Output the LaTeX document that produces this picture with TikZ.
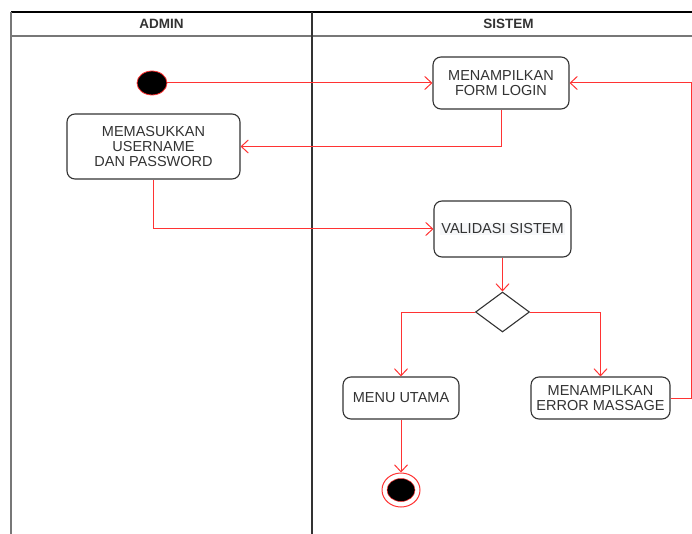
\documentclass[tikz,border=0pt]{standalone}
\usepackage{fontspec}
\setmainfont{Liberation Sans}
\usetikzlibrary{arrows.meta,shapes.geometric}
\definecolor{txt}{HTML}{333333}
\definecolor{flow}{HTML}{FF3333}
\definecolor{lane}{HTML}{777777}
\definecolor{hilite}{HTML}{F6F7F9}
\tikzset{
  act/.style={draw=txt, line width=1.1pt, rounded corners=8pt, fill=white,
    text=txt, align=center, inner sep=0pt,
    font=\fontsize{14.5}{15}\selectfont},
  choice/.style={diamond, draw=txt, line width=1.1pt, fill=white,
    inner sep=0pt, minimum width=54pt, minimum height=40pt},
  flowline/.style={draw=flow, line width=1pt,
    -{Straight Barb[length=7pt,width=13pt,line width=1pt]}},
  lanehead/.style={font=\bfseries\fontsize{13.5}{15}\selectfont, text=txt},
}
\begin{document}
\begin{tikzpicture}[x=1pt, y=-1pt]
\useasboundingbox (0,0) rectangle (692,534);

% swimlane frame
\draw[black, line width=1.1pt] (11,12) -- (705,12);
\draw[lane, line width=1.1pt] (11,12) -- (11,540);
\draw[lane, line width=1.1pt] (11,36) -- (705,36);
\draw[txt, line width=1.1pt] (312,12) -- (312,540);
\node[lanehead] (hadmin) at (161.5,24) {ADMIN};
\node[lanehead] (hsistem) at (508.5,24) {SISTEM};

% initial and final states
\node[draw=flow, line width=0.8pt, fill=black, ellipse,
  minimum width=30pt, minimum height=24pt, inner sep=0pt] (start) at (152,83) {};
\node[draw=flow, line width=1pt, fill=white, ellipse,
  minimum width=38pt, minimum height=34pt, inner sep=0pt] (stop) at (401,490) {};
\node[fill=black, draw=flow, line width=0.5pt, ellipse,
  minimum width=28pt, minimum height=23pt, inner sep=0pt] (stopdot) at (401,490) {};

% activities
\node[act, minimum width=136pt, minimum height=52pt] (form) at (501,83)
  {MENAMPILKAN\\FORM LOGIN};
\node[act, minimum width=173pt, minimum height=65pt] (input) at (153.5,146.5)
  {MEMASUKKAN\\USERNAME\\DAN PASSWORD};
\node[act, minimum width=137pt, minimum height=56pt] (valid) at (502.5,229)
  {{\setlength{\fboxsep}{1pt}\colorbox{hilite}{VALIDASI SISTEM}}};
\node[choice] (dec) at (502.5,312) {};
\node[act, minimum width=116pt, minimum height=42pt] (menu) at (401,398)
  {MENU UTAMA};
\node[act, minimum width=139pt, minimum height=42pt] (err) at (600.5,398)
  {MENAMPILKAN\\ERROR MASSAGE};

% control flow
\draw[flowline] (start) -- (form);
\draw[flowline] (form.south) |- (input.east);
\draw[flowline] (input.south) |- (valid.west);
\draw[flowline] (valid.south) -- (dec.north);
\draw[flowline] (dec.west) -| (menu.north);
\draw[flowline] (dec.east) -| (err.north);
\coordinate (loop) at (691,398);
\draw[flowline] (err.east) -- (loop) |- (form.east);
\draw[flowline] (menu.south) -- (stop.north);
\end{tikzpicture}
\end{document}
